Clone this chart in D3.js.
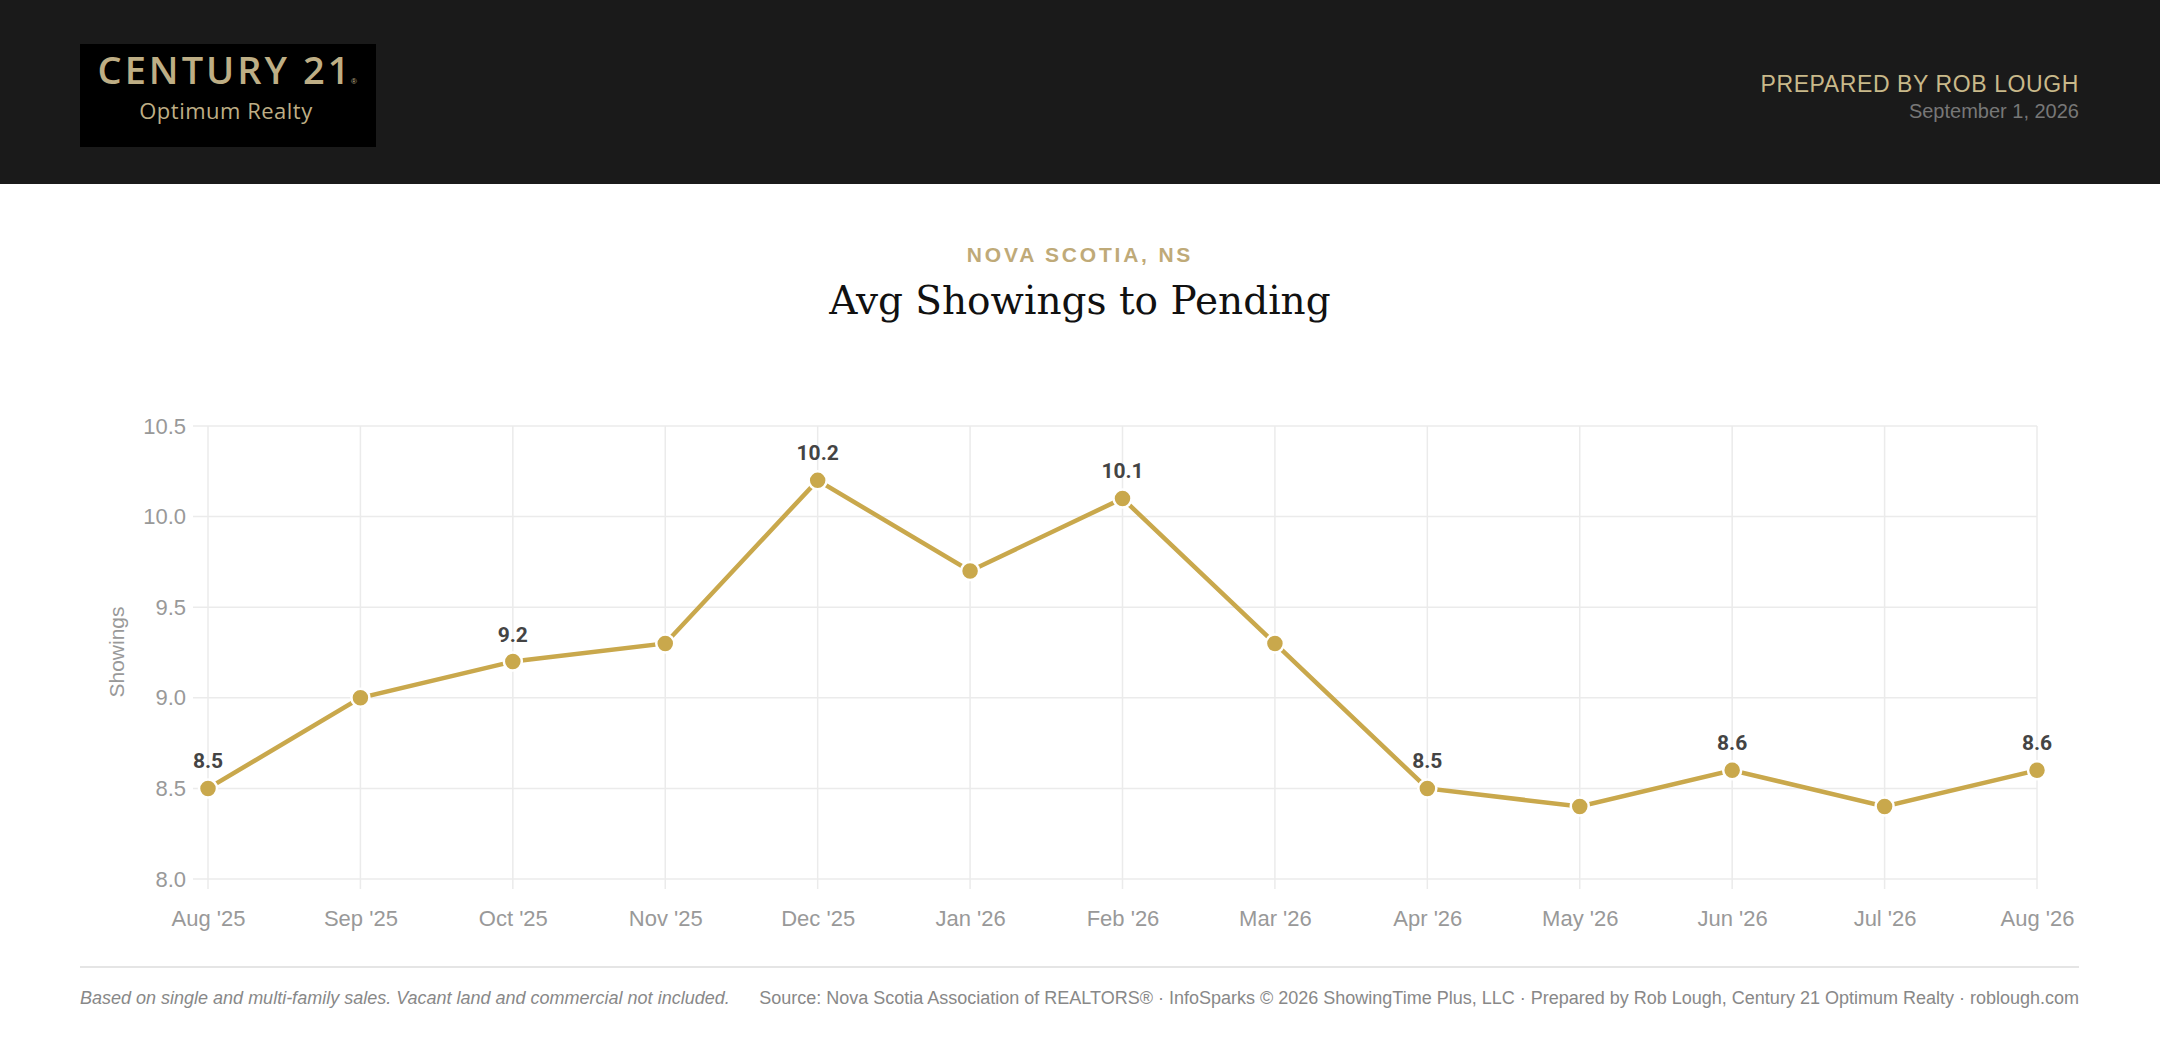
<!DOCTYPE html>
<html>
<head>
<meta charset="utf-8">
<script src="https://cdn.jsdelivr.net/npm/d3@7"></script>
<style>
  body { margin: 0; background: #fff; }
  svg { display: block; }
</style>
</head>
<body>
<svg id="SVG_CONTAINER" width="2160" height="1048"></svg>
<script>
const months = ["Aug '25","Sep '25","Oct '25","Nov '25","Dec '25","Jan '26","Feb '26","Mar '26","Apr '26","May '26","Jun '26","Jul '26","Aug '26"];
const showings = [8.5, 9.0, 9.2, 9.3, 10.2, 9.7, 10.1, 9.3, 8.5, 8.4, 8.6, 8.4, 8.6];
const yTicks = [8.0, 8.5, 9.0, 9.5, 10.0, 10.5];

const width = 2160, height = 1048;
const GOLD = "#c9a84c";

let svg = d3.select("#SVG_CONTAINER");

// header
svg.append("rect").attr("width", width).attr("height", 184).attr("fill", "#1a1a1a");
svg.append("rect").attr("x", 80).attr("y", 44).attr("width", 296).attr("height", 103).attr("fill", "#000");
svg.append("text").attr("x", 225).attr("y", 84).attr("text-anchor", "middle")
    .style("font", "600 38px 'Open Sans'").style("letter-spacing", "3px")
    .attr("fill", "#beae85").text("CENTURY 21");
svg.append("text").attr("x", 351).attr("y", 84).style("font", "8px sans-serif").attr("fill", "#beae85").text("®");
svg.append("text").attr("x", 226).attr("y", 119).attr("text-anchor", "middle")
    .style("font", "500 22px 'Open Sans'").style("letter-spacing", "0.5px")
    .attr("fill", "#beae85").text("Optimum Realty");

svg.append("text").attr("x", 2079).attr("y", 92).attr("text-anchor", "end")
    .style("font", "23px 'Liberation Sans'").style("letter-spacing", "0.6px")
    .attr("fill", "#c9b98a").text("PREPARED BY ROB LOUGH");
svg.append("text").attr("x", 2079).attr("y", 118).attr("text-anchor", "end")
    .style("font", "20px 'Liberation Sans'").attr("fill", "#777").text("September 1, 2026");

// titles
svg.append("text").attr("x", 1080).attr("y", 262).attr("text-anchor", "middle")
    .style("font", "bold 21px 'Liberation Sans'").style("letter-spacing", "2.8px")
    .attr("fill", "#bfaa78").text("NOVA SCOTIA, NS");
svg.append("text").attr("x", 1080).attr("y", 314).attr("text-anchor", "middle")
    .style("font", "39px 'DejaVu Serif'").attr("fill", "#111").text("Avg Showings to Pending");

// scales
let x = d3.scalePoint().domain(months).range([208, 2037]);
let y = d3.scaleLinear().domain([8.0, 10.5]).range([879, 426]);

let chart = svg.append("g");

// grid
chart.selectAll(".hgrid").data(yTicks).enter().append("line")
    .attr("x1", 193).attr("x2", 2037)
    .attr("y1", d => y(d)).attr("y2", d => y(d))
    .attr("stroke", "#ebebeb").attr("stroke-width", 1.5);
chart.selectAll(".vgrid").data(months).enter().append("line")
    .attr("x1", d => x(d)).attr("x2", d => x(d))
    .attr("y1", 426).attr("y2", 889)
    .attr("stroke", "#ebebeb").attr("stroke-width", 1.5);

// axes
let yAxis = chart.append("g").attr("transform", "translate(189,0)")
    .call(d3.axisLeft(y).tickValues(yTicks).tickFormat(d3.format(".1f")).tickSize(0));
let xAxis = chart.append("g").attr("transform", "translate(0,903)")
    .call(d3.axisBottom(x).tickSize(0));
[yAxis, xAxis].forEach(a => {
    a.select(".domain").remove();
    a.selectAll("text").style("font", "22px 'Liberation Sans'").attr("fill", "#999");
});
yAxis.selectAll("text").attr("dx", "0");
xAxis.selectAll("text").attr("dy", "0.9em");

svg.append("text")
    .attr("transform", "translate(124,652)rotate(-90)")
    .attr("text-anchor", "middle")
    .style("font", "21px 'Liberation Sans'").attr("fill", "#999").text("Showings");

// line + points
chart.append("path")
    .datum(showings)
    .attr("d", d3.line().x((d, i) => x(months[i])).y(d => y(d)))
    .attr("fill", "none").attr("stroke", GOLD).attr("stroke-width", 4.5);

chart.selectAll("circle").data(showings).enter().append("circle")
    .attr("cx", (d, i) => x(months[i])).attr("cy", d => y(d)).attr("r", 9)
    .attr("fill", GOLD).attr("stroke", "#fff").attr("stroke-width", 2.5);

chart.selectAll(".lbl").data(showings).enter()
    .filter((d, i) => i % 2 === 0)
    .append("text")
    .attr("x", (d, i) => x(months[i * 2])).attr("y", d => y(d) - 20)
    .attr("text-anchor", "middle")
    .style("font", "bold 21px 'Roboto'").attr("fill", "#444")
    .text(d => d.toFixed(1));

// footer
svg.append("line").attr("x1", 80).attr("x2", 2079).attr("y1", 967).attr("y2", 967)
    .attr("stroke", "#ddd").attr("stroke-width", 1.5);
svg.append("text").attr("x", 80).attr("y", 1004)
    .style("font", "italic 18px 'Liberation Sans'").attr("fill", "#888")
    .text("Based on single and multi-family sales. Vacant land and commercial not included.");
svg.append("text").attr("x", 2079).attr("y", 1004).attr("text-anchor", "end")
    .style("font", "18px 'Liberation Sans'").attr("fill", "#888")
    .text("Source: Nova Scotia Association of REALTORS® · InfoSparks © 2026 ShowingTime Plus, LLC · Prepared by Rob Lough, Century 21 Optimum Realty · roblough.com");
</script>
</body>
</html>
